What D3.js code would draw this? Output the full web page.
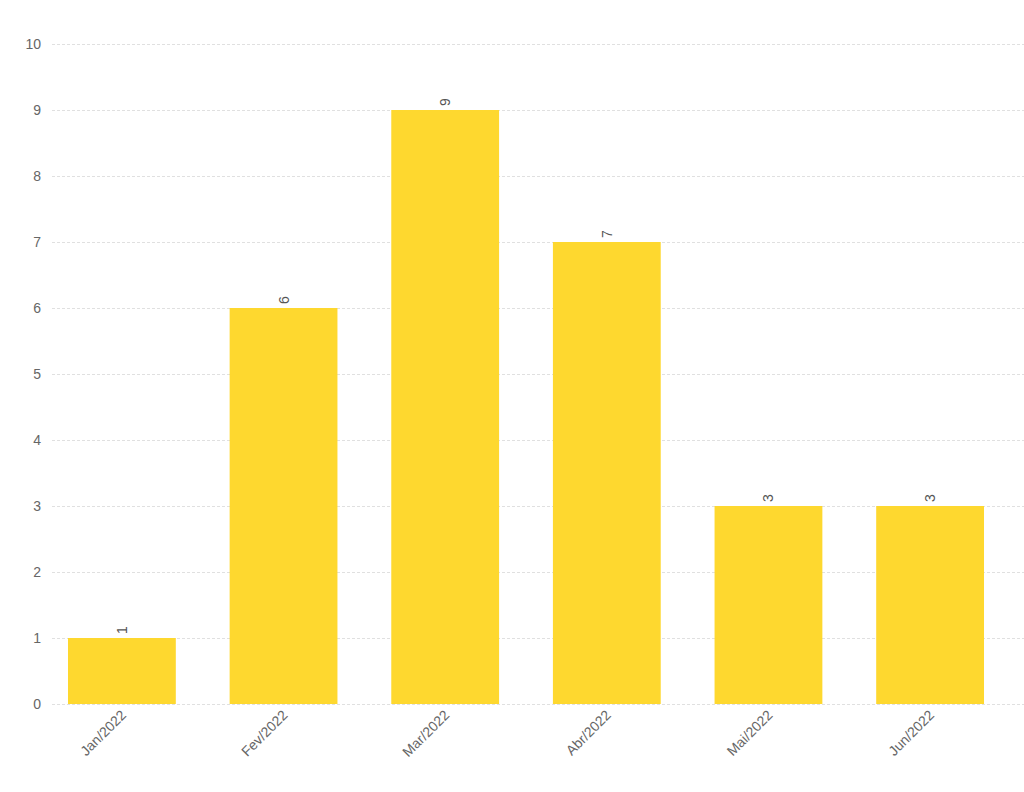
<!DOCTYPE html>
<html>
<head>
<meta charset="utf-8">
<script src="https://cdn.jsdelivr.net/npm/d3@7"></script>
<style>
  html, body { margin: 0; padding: 0; background: #fff; }
  svg { display: block; font-family: "Liberation Sans", Arial, sans-serif; }
</style>
</head>
<body>
<div id="chart"></div>
<script>
// dados do gráfico
const months = ["Jan/2022", "Fev/2022", "Mar/2022", "Abr/2022", "Mai/2022", "Jun/2022"];
const counts = [1, 6, 9, 7, 3, 3];
const yTicks = [0, 1, 2, 3, 4, 5, 6, 7, 8, 9, 10];

const width = 1024, height = 792;

const svg = d3.select("#chart")
    .append("svg")
    .attr("width", width)
    .attr("height", height);

const x = d3.scaleBand()
    .domain(months)
    .range([41, 1011])
    .paddingInner(0.333)
    .paddingOuter(0.167);

const y = d3.scaleLinear()
    .domain([0, 10])
    .range([704, 44]);

// linhas de grade
svg.append("g")
    .selectAll("line")
    .data(yTicks)
    .join("line")
    .attr("x1", 52)
    .attr("x2", width)
    .attr("y1", d => y(d) + 0.5)
    .attr("y2", d => y(d) + 0.5)
    .attr("stroke", "#e0e0e0")
    .attr("stroke-width", 1)
    .attr("stroke-dasharray", "3,2");

// eixo y
const yAxis = svg.append("g")
    .attr("transform", "translate(41,0)")
    .call(d3.axisLeft(y).tickValues(yTicks).tickSize(0).tickPadding(0));
yAxis.select(".domain").remove();
yAxis.selectAll("text")
    .attr("fill", "#666")
    .style("font-size", "14px");

// barras
svg.append("g")
    .selectAll("rect")
    .data(months)
    .join("rect")
    .attr("x", d => x(d))
    .attr("width", x.bandwidth())
    .attr("y", (d, i) => y(counts[i]))
    .attr("height", (d, i) => y(0) - y(counts[i]))
    .attr("fill", "#fed82f");

// rótulos de valor
svg.append("g")
    .selectAll("text")
    .data(months)
    .join("text")
    .attr("transform", (d, i) => `translate(${x(d) + x.bandwidth() / 2 + 5},${y(counts[i]) - 4}) rotate(-90)`)
    .attr("text-anchor", "start")
    .attr("fill", "#555")
    .style("font-size", "14px")
    .text((d, i) => counts[i]);

// eixo x
const xAxis = svg.append("g")
    .attr("transform", `translate(0,${y(0)})`)
    .call(d3.axisBottom(x).tickSize(0).tickPadding(0));
xAxis.select(".domain").remove();
xAxis.selectAll("text")
    .attr("fill", "#666")
    .style("font-size", "14px")
    .attr("text-anchor", "end")
    .attr("dy", null)
    .attr("y", null)
    .attr("transform", "translate(5,12) rotate(-45)");
</script>
</body>
</html>
